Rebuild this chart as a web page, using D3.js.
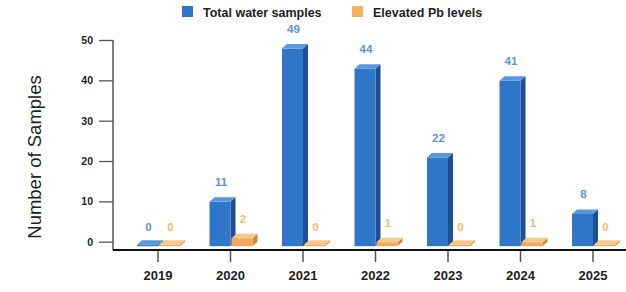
<!DOCTYPE html>
<html>
    <head>
        <title>Water samples by year</title>
        <script src="https://d3js.org/d3.v7.min.js"></script>
        <style>
            body
            {
                margin: 0;
                background: white;
            }
            svg
            {
                display: block;
                font-family: Arial, "Liberation Sans", sans-serif;
            }
            .tick text
            {
                font-weight: bold;
                fill: #222;
            }
        </style>
    </head>
    <body>
        <div id="chart"></div>
        <script>
        // data
        var years = ["2019", "2020", "2021", "2022", "2023", "2024", "2025"];
        var totalSamples = [0, 11, 49, 44, 22, 41, 8];
        var elevatedPb = [0, 2, 0, 1, 0, 1, 0];
        var yTicks = [0, 10, 20, 30, 40, 50];
        var seriesNames = ["Total water samples", "Elevated Pb levels"];

        var width = 626, height = 292;
        var depthX = 5, depthY = 4.5;
        var barW = 21;

        var colors = [
            {front: "#2f76c8", side: "#1e4f90", top: "#5a97dc", label: "#5d93d6"},
            {front: "#f5a95e", side: "#d4883f", top: "#f9c88f", label: "#f3b872"}
        ];

        var svg = d3.select("#chart").append("svg")
                .attr("width", width).attr("height", height);

        var x = d3.scaleBand().domain(years).range([121.75, 629.25]);
        var y = d3.scaleLinear().domain([0, 50]).range([241.7, 40]);

        // y axis
        var yAxis = svg.append("g")
            .attr("transform", "translate(113,0)")
            .call(d3.axisLeft(y).tickValues(yTicks).tickSize(14).tickPadding(6));
        yAxis.select(".domain").remove();
        yAxis.selectAll(".tick line").attr("stroke", "#555").attr("stroke-width", 1.3);
        yAxis.selectAll(".tick text").style("font-size", "10.5px").attr("fill", "#333");
        svg.append("line")
            .attr("x1", 113).attr("x2", 113).attr("y1", 40).attr("y2", 250)
            .attr("stroke", "#555").attr("stroke-width", 1.5);

        // x axis
        var xAxis = svg.append("g")
            .attr("transform", "translate(0,250)")
            .call(d3.axisBottom(x).tickSize(12).tickPadding(9));
        xAxis.select(".domain").remove();
        xAxis.selectAll(".tick line").attr("stroke", "#555").attr("stroke-width", 1.5);
        xAxis.selectAll(".tick text").style("font-size", "13px").attr("fill", "#222");

        // 3d bars
        function drawBar(g, x0, v, c) {
            var top = y(v) + depthY;
            var bottom = y(0) + depthY;
            if (bottom - top < 1.5) top = bottom - 1.5;
            var x1 = x0 + barW;
            g.append("path")
                .attr("d", "M" + x1 + "," + top + "L" + (x1 + depthX) + "," + (top - depthY) +
                    "L" + (x1 + depthX) + "," + (bottom - depthY) + "L" + x1 + "," + bottom + "Z")
                .attr("fill", c.side);
            g.append("rect")
                .attr("x", x0).attr("y", top)
                .attr("width", barW).attr("height", bottom - top)
                .attr("fill", c.front);
            g.append("path")
                .attr("d", "M" + x0 + "," + top + "L" + (x0 + depthX) + "," + (top - depthY) +
                    "L" + (x1 + depthX) + "," + (top - depthY) + "L" + x1 + "," + top + "Z")
                .attr("fill", c.top);
        }

        var bars = svg.append("g");
        years.forEach(function(yr, i) {
            var cx = x(yr) + x.bandwidth() / 2;
            var vals = [totalSamples[i], elevatedPb[i]];
            vals.forEach(function(v, s) {
                var x0 = s == 0 ? cx - barW : cx + 1;
                drawBar(bars, x0, v, colors[s]);
                bars.append("text")
                    .attr("x", x0 + barW / 2 + 1)
                    .attr("y", y(v) - 11)
                    .attr("text-anchor", "middle")
                    .style("font-size", "11.5px")
                    .style("font-weight", "bold")
                    .attr("fill", colors[s].label)
                    .text(v);
            });
        });

        // x axis line on top of bars
        svg.append("line")
            .attr("x1", 113).attr("x2", 626).attr("y1", 250).attr("y2", 250)
            .attr("stroke", "#111").attr("stroke-width", 2);

        // y title
        svg.append("text")
            .attr("transform", "translate(41,157) rotate(-90)")
            .attr("text-anchor", "middle")
            .style("font-size", "18.5px")
            .attr("fill", "#222")
            .text("Number of Samples");

        // legend
        var legendX = [182, 352];
        var legend = svg.append("g");
        seriesNames.forEach(function(name, s) {
            legend.append("rect")
                .attr("x", legendX[s]).attr("y", 6)
                .attr("width", 11).attr("height", 11)
                .attr("fill", s == 0 ? "#2f76c8" : "#f5b166");
            legend.append("text")
                .attr("x", legendX[s] + 21).attr("y", 16.5)
                .style("font-size", "12.5px")
                .style("font-weight", "bold")
                .attr("fill", "#222")
                .text(name);
        });
        </script>
    </body>
</html>
